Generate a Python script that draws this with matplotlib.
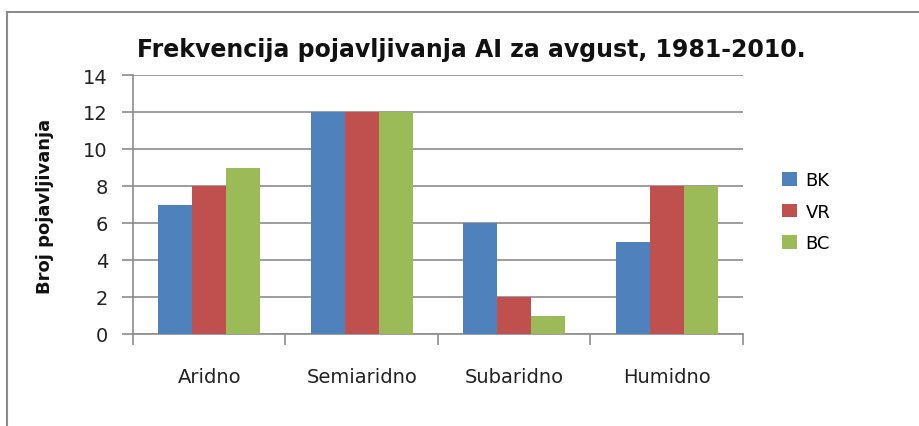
import matplotlib
matplotlib.use("Agg")
import matplotlib.pyplot as plt
import numpy as np
from matplotlib.lines import Line2D

categories = ["Aridno", "Semiaridno", "Subaridno", "Humidno"]
series_names = ["BK", "VR", "BC"]
bk = [7, 12, 6, 5]
vr = [8, 12, 2, 8]
bc = [9, 12, 1, 8]
colors = ["#4F81BD", "#C0504D", "#9BBB59"]
title = "Frekvencija pojavljivanja AI za avgust, 1981-2010."
ylabel = "Broj pojavljivanja"

W, H = 920, 427
fig = plt.figure(figsize=(W / 100, H / 100), dpi=100)
fig.patch.set_facecolor("white")

# outer chart border (right and bottom edges fall outside the image)
fig.add_artist(Line2D([7 / W, 7 / W], [0, 1 - 13 / H], transform=fig.transFigure, color="#8c8c8c", lw=1.5))
fig.add_artist(Line2D([7 / W, 1], [1 - 13 / H, 1 - 13 / H], transform=fig.transFigure, color="#8c8c8c", lw=1.5))

left, right, top, bottom = 133, 743, 76, 335
ax = fig.add_axes([left / W, 1 - bottom / H, (right - left) / W, (bottom - top) / H])

x = np.arange(len(categories))
w = 1 / 4.5
for i, (vals, c) in enumerate(zip([bk, vr, bc], colors)):
    ax.bar(x + (i - 1) * w, vals, width=w, color=c, label=series_names[i], zorder=3)

ax.set_xlim(-0.5, len(categories) - 0.5)
ax.set_ylim(0, 14)
ax.set_yticks(np.arange(0, 15, 2))
ax.yaxis.grid(True, color="#8c8c8c", lw=1.2, zorder=0)
ax.set_axisbelow(True)
for s in ["top", "right"]:
    ax.spines[s].set_visible(False)
for s in ["left", "bottom"]:
    ax.spines[s].set_color("#8c8c8c")
    ax.spines[s].set_linewidth(1.2)

ax.set_xticks(np.arange(-0.5, len(categories), 1))
ax.set_xticklabels([])
ax.set_xticks(x, minor=True)
ax.set_xticklabels(categories, minor=True, fontsize=14, color="#222222")
ax.tick_params(axis="x", which="major", length=8, width=1.2, color="#8c8c8c")
ax.tick_params(axis="x", which="minor", length=0, pad=24)
ax.tick_params(axis="y", length=8, width=1.2, color="#8c8c8c", labelsize=14, labelcolor="#222222", pad=10)

fig.text(471 / W, 1 - 50 / H, title, ha="center", va="center", fontsize=17, fontweight="bold", color="#111111")
fig.text(45 / W, 1 - 206 / H, ylabel, ha="center", va="center", rotation=90, fontsize=13, fontweight="bold", color="#111111")

leg = ax.legend(loc="upper left", bbox_to_anchor=(775 / W, 1 - 165 / H), bbox_transform=fig.transFigure,
                frameon=False, fontsize=13, handlelength=0.8, handleheight=0.8, handletextpad=0.5,
                labelspacing=0.75, borderaxespad=0)

fig.savefig("out.png", dpi=100, facecolor="white")
